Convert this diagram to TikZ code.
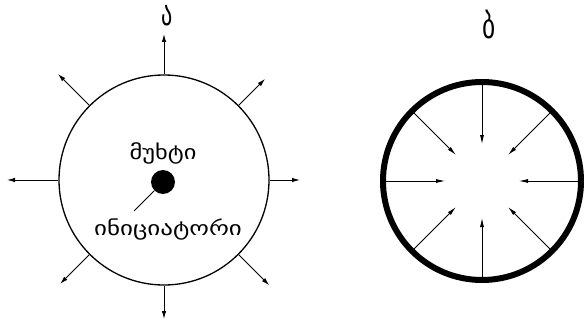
\documentclass[tikz,border=0pt]{standalone}
\usepackage{fontspec}
\newfontfamily\geofont{DejaVu Sans}
\usetikzlibrary{arrows.meta, calc}
\tikzset{
  % Charge with the initiator (left)
  charge/.style={
    draw, circle, line width=1.3pt, inner sep=0pt, minimum size=210pt,
  },
  core/.style={circle, fill=black, inner sep=0pt, minimum size=24pt},
  % Compressing shell (right)
  shell/.style={
    draw, circle, line width=6pt, inner sep=0pt, minimum size=198pt,
  },
  % Texts
  geotext/.style={font=\geofont\fontsize{20}{20}\selectfont, inner sep=0pt},
  figtag/.style={font=\geofont\fontsize{34}{34}\selectfont, inner sep=0pt},
  % Arrows
  outarrow/.style={-{Latex[length=8pt,width=4.5pt]}, line width=1pt},
  inarrow/.style={-{Latex[length=9pt,width=4pt]}, line width=0.8pt},
  leader/.style={line width=0.9pt},
}
\begin{document}
\begin{tikzpicture}[x=1pt, y=1pt]
\useasboundingbox (0,0) rectangle (584,322);

% ====================================================================
% (a) Charge and initiator
% ====================================================================
\node[figtag] (taga) at (167,306) {\scalebox{0.65}[1]{ა}};
\node[charge] (charge) at (164,142) {};
\node[core] (initiator) at (163,140) {};
\node[geotext] (chargetext) at (163,169) {\scalebox{1.22}[1]{მუხტი}};
\node[geotext] (initext) at (168,92) {\scalebox{1.25}[1]{ინიციატორი}};
\coordinate (leaderend) at (134,111);
\draw[leader] (initiator.225) -- (leaderend);

% Arrows pointing out
\foreach \a/\l in {90/41, 45/38, 0/31, -45/44, -90/34, 225/42, 180/52, 135/45} {
  \coordinate (out\a) at ($(charge.center)+(\a:105+\l)$);
  \draw[outarrow] (charge.\a) -- (out\a);
}

% ====================================================================
% (b) Shell compressing inwards
% ====================================================================
\node[figtag] (tagb) at (489,297) {\scalebox{0.75}[1]{ბ}};
\node[shell] (shell) at (482,141) {};

% Arrows pointing in
\foreach \a in {90, 45, 0, -45, -90, 225, 180, 135} {
  \coordinate (in\a) at ($(shell.center)+(\a:37)$);
  \draw[inarrow] (shell.\a) -- (in\a);
}

\end{tikzpicture}
\end{document}
